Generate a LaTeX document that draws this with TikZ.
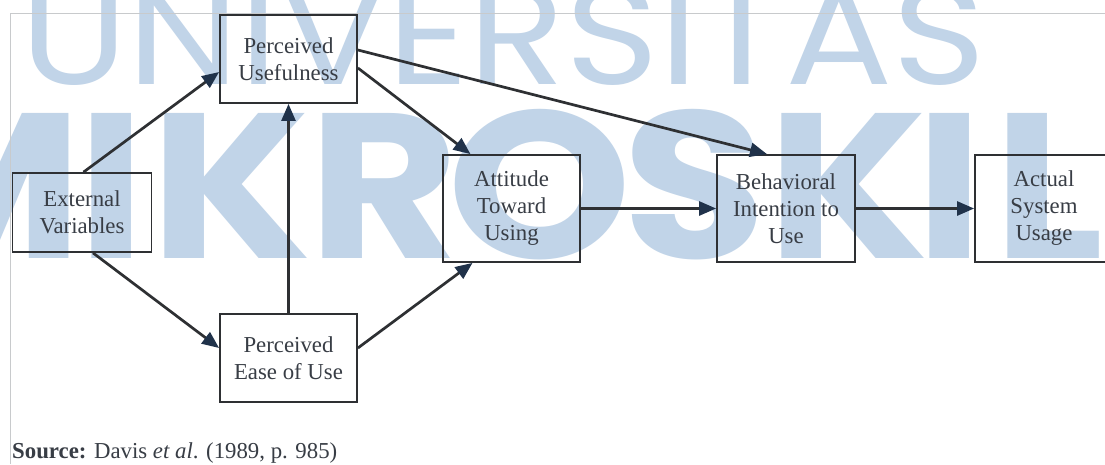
\documentclass[tikz,border=0pt]{standalone}
\usepackage{fontspec}
\setmainfont{Liberation Serif}
\newfontfamily\wmfont{Poppins}
\usetikzlibrary{arrows.meta,calc}
\definecolor{wm}{HTML}{C1D4E8}
\definecolor{ln}{HTML}{2E3033}
\definecolor{tipc}{HTML}{20324A}
\definecolor{tx}{HTML}{383D45}
\definecolor{fr}{HTML}{C8CACC}
\newcommand{\wmbig}[2][145pt]{\scalebox{1.12}[1]{\resizebox{!}{#1}{\wmfont\bfseries #2}}}
\tikzset{
  box/.style={draw=ln, line width=1.8pt, minimum width=137pt, minimum height=88pt,
    inner sep=0pt, align=center, text=tx, font=\fontsize{22.8}{27}\selectfont},
  conn/.style={draw=ln, line width=2.7pt, -{Triangle[length=17pt,width=14pt,color=tipc]}},
  wmark/.style={anchor=south west, inner sep=0pt, text=wm},
  wmlet/.style={anchor=base, inner sep=0pt, text=wm},
}
\begin{document}
\begin{tikzpicture}[x=1pt,y=-1pt]
\path[use as bounding box] (0,0) rectangle (1105,464);
\fill[white] (0,0) rectangle (1105,464);
\begin{scope}
\clip (0,0) rectangle (1105,464);
\node[wmark] (wm1) at (20,86) {\resizebox{965pt}{100pt}{\wmfont UNIVERSITAS}};
\node[wmlet] (m1) at (-23,258) {\wmbig{M}};
\node[wmlet] (m2) at (111.5,258) {\wmbig{I}};
\node[wmlet] (m3) at (231,258) {\wmbig{K}};
\node[wmlet] (m4) at (383.5,258) {\wmbig{R}};
\node[wmlet] (m5) at (540,258) {\wmbig[149pt]{O}};
\node[wmlet] (m6) at (694.5,258) {\wmbig[149pt]{S}};
\node[wmlet] (m7) at (848.5,258) {\wmbig{K}};
\node[wmlet] (m8) at (950,258) {\wmbig{I}};
\node[wmlet] (m9) at (1049,258) {\wmbig{L}};
\draw[fr, line width=1pt] (10,464) -- (10,13.5) -- (1105,13.5);

\node[box, minimum width=139pt, minimum height=79pt] (ev) at (82,212.5) {External\\Variables};
\node[box] (pu) at (288.5,59) {Perceived\\Usefulness};
\node[box] (peu) at (288.5,358) {Perceived\\Ease of Use};
\node[box, minimum height=107pt] (atu) at (511.5,208.5) {Attitude\\Toward\\Using};
\node[box, minimum width=138pt, minimum height=107pt] (bi) at (786,208.5) {Behavioral\\Intention to\\Use};
\node[box, minimum width=138pt, minimum height=107pt] (asu) at (1044,208.5) {Actual\\System\\Usage};

\node[anchor=base west, inner sep=0pt, text=tx, font=\fontsize{22.8}{27}\selectfont] (src) at (12,458)
  {\textbf{Source:} Davis \textit{et al}. (1989, p. 985)};

\draw[conn] ($(ev.north)+(1.5,0)$) -- ($(pu.west)+(0,13)$);
\draw[conn] ($(ev.south)+(11,0)$) -- ($(peu.west)+(0,-10)$);
\draw[conn] (peu.north) -- (pu.south);
\draw[conn] ($(pu.east)+(0,9)$) -- ($(atu.north)+(-41,0)$);
\draw[conn] ($(pu.east)+(0,-9)$) -- ($(bi.north)+(-19,0)$);
\draw[conn] ($(peu.east)+(0,-10)$) -- ($(atu.south)+(-39,0)$);
\draw[conn] (atu.east) -- (bi.west);
\draw[conn] (bi.east) -- (asu.west);
\end{scope}
\end{tikzpicture}
\end{document}
